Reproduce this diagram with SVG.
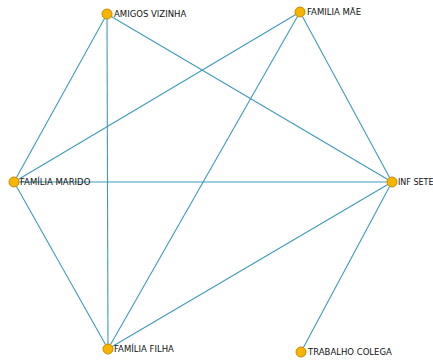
<svg xmlns="http://www.w3.org/2000/svg" width="433" height="363" viewBox="0 0 433 363">
<style>
.e{stroke:#3f9bb8;stroke-width:1.1;fill:none}
.n{fill:#f7b500;stroke:#c98a00;stroke-width:1}
.t{font-family:"DejaVu Sans","Liberation Sans",sans-serif;font-size:8.5px;fill:#111}
</style>
<rect width="433" height="363" fill="#fff"/>
<g id="connectors">
<line class="e" x1="107" y1="14" x2="14" y2="182"/>
<line class="e" x1="107" y1="14" x2="108" y2="349"/>
<line class="e" x1="107" y1="14" x2="392" y2="182"/>
<line class="e" x1="300" y1="12" x2="14" y2="182"/>
<line class="e" x1="300" y1="12" x2="108" y2="349"/>
<line class="e" x1="300" y1="12" x2="392" y2="182"/>
<line class="e" x1="14" y1="182" x2="392" y2="182"/>
<line class="e" x1="14" y1="182" x2="108" y2="349"/>
<line class="e" x1="108" y1="349" x2="392" y2="182"/>
<line class="e" x1="392" y1="182" x2="301" y2="352"/>
</g>
<g id="amigos-vizinha"><circle class="n" cx="107" cy="14" r="5"/><text class="t" x="114" y="17">AMIGOS VIZINHA</text></g>
<g id="familia-mae"><circle class="n" cx="300" cy="12" r="5"/><text class="t" x="307" y="15">FAMILIA MÃE</text></g>
<g id="familia-marido"><circle class="n" cx="14" cy="182" r="5"/><text class="t" x="20" y="185">FAMÍLIA MARIDO</text></g>
<g id="inf-sete"><circle class="n" cx="392" cy="182" r="5"/><text class="t" x="398" y="185" style="font-size:8px">INF SETE</text></g>
<g id="familia-filha"><circle class="n" cx="108" cy="349" r="5"/><text class="t" x="114" y="352">FAMÍLIA FILHA</text></g>
<g id="trabalho-colega"><circle class="n" cx="301" cy="352" r="5"/><text class="t" x="308" y="355">TRABALHO COLEGA</text></g>
</svg>
